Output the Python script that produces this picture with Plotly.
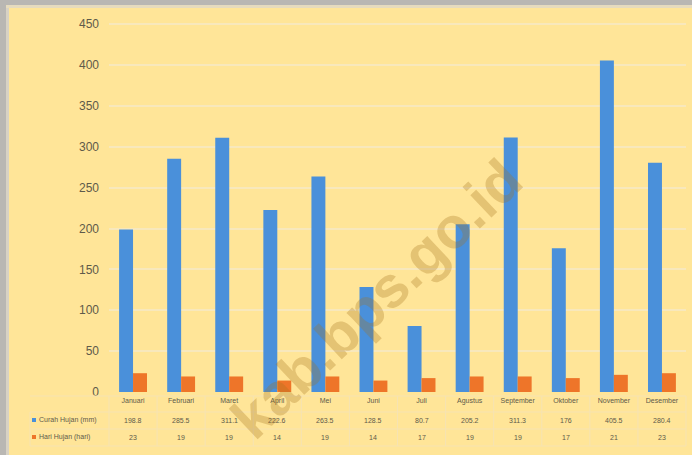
import plotly.graph_objects as go

months = ["Januari", "Februari", "Maret", "April", "Mei", "Juni", "Juli",
          "Agustus", "September", "Oktober", "November", "Desember"]
curah_hujan = [198.8, 285.5, 311.1, 222.6, 263.5, 128.5, 80.7,
               205.2, 311.3, 176, 405.5, 280.4]
hari_hujan = [23, 19, 19, 14, 19, 14, 17, 19, 19, 17, 21, 23]
curah_labels = ["198.8", "285.5", "311.1", "222.6", "263.5", "128.5", "80.7",
                "205.2", "311.3", "176", "405.5", "280.4"]
series_names = ["Curah Hujan (mm)", "Hari Hujan (hari)"]
y_ticks = [0, 50, 100, 150, 200, 250, 300, 350, 400, 450]

W, H = 692, 455
L, R, T, B = 109, 6, 16, 63
PW, PH = W - L - R, H - T - B

BG = "#FFE598"
BLUE = "#4A90DA"
ORANGE = "#EE7529"
TXT = "#5E5A4A"


def px(x):
    return (x - L) / PW


def py(y):
    return (H - B - y) / PH


fig = go.Figure()
fig.add_trace(go.Bar(x=months, y=curah_hujan, name=series_names[0],
                     marker=dict(color=BLUE, line=dict(width=0))))
fig.add_trace(go.Bar(x=months, y=hari_hujan, name=series_names[1],
                     marker=dict(color=ORANGE, line=dict(width=0))))

shapes = []
# gray frame (top and left shadow)
shapes.append(dict(type="rect", xref="paper", yref="paper",
                   x0=px(0), x1=px(W), y0=py(5), y1=py(0),
                   fillcolor="#B9B7B3", line=dict(width=0), layer="above"))
shapes.append(dict(type="rect", xref="paper", yref="paper",
                   x0=px(0), x1=px(6), y0=py(H), y1=py(0),
                   fillcolor="#B9B7B3", line=dict(width=0), layer="above"))
shapes.append(dict(type="rect", xref="paper", yref="paper",
                   x0=px(6), x1=px(9), y0=py(H), y1=py(5),
                   fillcolor="#D8D2C4", line=dict(width=0), layer="above"))
shapes.append(dict(type="rect", xref="paper", yref="paper",
                   x0=px(6), x1=px(W), y0=py(8), y1=py(5),
                   fillcolor="#E6DBBE", line=dict(width=0), layer="above"))

# table grid lines
GRID = "#F6E3B2"
for yy in [396, 412, 429, 446]:
    shapes.append(dict(type="line", xref="paper", yref="paper",
                       x0=px(30), x1=px(W - 6), y0=py(yy), y1=py(yy),
                       line=dict(color=GRID, width=1)))
for i in range(13):
    xx = L + i * PW / 12
    shapes.append(dict(type="line", xref="paper", yref="paper",
                       x0=px(xx), x1=px(xx), y0=py(396), y1=py(446),
                       line=dict(color=GRID, width=1)))
shapes.append(dict(type="line", xref="paper", yref="paper",
                   x0=px(30), x1=px(30), y0=py(412), y1=py(446),
                   line=dict(color=GRID, width=1)))
# legend keys in table
shapes.append(dict(type="rect", xref="paper", yref="paper",
                   x0=px(32), x1=px(36), y0=py(422), y1=py(418),
                   fillcolor=BLUE, line=dict(width=0)))
shapes.append(dict(type="rect", xref="paper", yref="paper",
                   x0=px(32), x1=px(36), y0=py(439), y1=py(435),
                   fillcolor=ORANGE, line=dict(width=0)))

annotations = []
annotations.append(dict(x=px(37), y=py(420), xref="paper", yref="paper",
                        text=series_names[0], showarrow=False, xanchor="left",
                        yanchor="middle", font=dict(size=7, color=TXT)))
annotations.append(dict(x=px(37), y=py(437), xref="paper", yref="paper",
                        text=series_names[1], showarrow=False, xanchor="left",
                        yanchor="middle", font=dict(size=7, color=TXT)))
for m, c, h in zip(months, curah_labels, hari_hujan):
    annotations.append(dict(x=m, y=py(420), xref="x", yref="paper", text=c,
                            showarrow=False, yanchor="middle",
                            font=dict(size=7, color=TXT)))
    annotations.append(dict(x=m, y=py(437), xref="x", yref="paper", text=str(h),
                            showarrow=False, yanchor="middle",
                            font=dict(size=7, color=TXT)))
# watermark
annotations.append(dict(x=px(376), y=py(298), xref="paper", yref="paper",
                        text="<b>kab.bps.go.id</b>", showarrow=False,
                        textangle=-43.5, xanchor="center", yanchor="middle",
                        font=dict(size=58, color="rgba(165,115,30,0.30)",
                                  family="Liberation Sans, Arial, sans-serif")))

fig.update_layout(
    width=W, height=H,
    margin=dict(l=L, r=R, t=T, b=B, pad=0),
    paper_bgcolor=BG, plot_bgcolor=BG,
    barmode="group", bargap=0.42, bargroupgap=0,
    showlegend=False,
    font=dict(family="Liberation Sans, Arial, sans-serif", color=TXT),
    xaxis=dict(showgrid=False, showline=False, ticks="",
               tickfont=dict(size=7, color=TXT), ticklabelstandoff=3),
    yaxis=dict(range=[0, 460], tickvals=y_ticks, showline=False, ticks="",
               gridcolor="#F8E8BC", gridwidth=1.5, zeroline=False,
               tickfont=dict(size=12, color=TXT), ticklabelstandoff=9),
    shapes=shapes, annotations=annotations,
)

fig.write_html("out.html",
               config={"displayModeBar": False},
               post_script="document.body.style.margin='0';"
                           "document.body.style.overflow='hidden';")
